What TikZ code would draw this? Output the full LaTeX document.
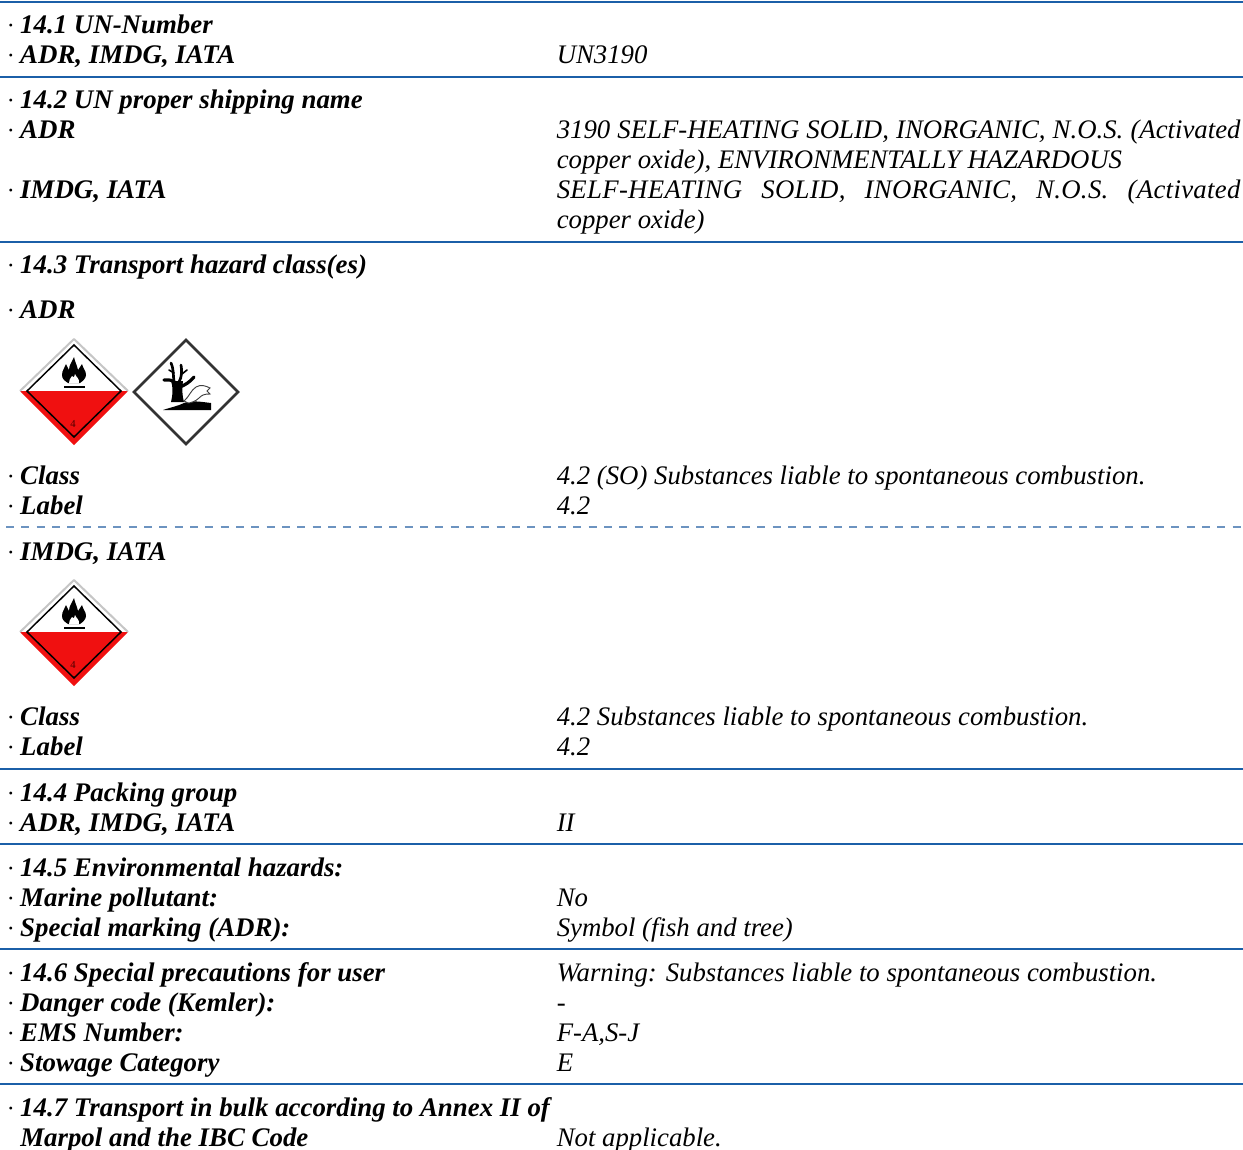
\documentclass[tikz,border=0pt]{standalone}
\usepackage{fontspec}
\setmainfont{Liberation Serif}
\definecolor{rulecol}{HTML}{1B5FA8}
\definecolor{redfill}{HTML}{F01010}
\definecolor{dashcol}{HTML}{6C93C0}
\newlength{\pxu}\setlength{\pxu}{0.75pt}
\newcommand{\dgflame}{%
  \fill[black] (-12,-3) .. controls (-12,-8) and (-9,-10) .. (-8,-14) .. controls (-7,-12) and (-6,-10) .. (-5,-8)
    .. controls (-5,-13) and (-2,-16) .. (0,-21) .. controls (1,-16) and (3,-13) .. (4,-8)
    .. controls (5,-10) and (7,-12) .. (8,-14) .. controls (9,-9) and (12,-8) .. (12,-3)
    .. controls (12,0) and (9,3) .. (6,5) -- (-6,5) .. controls (-9,3) and (-12,1) .. (-12,-3) -- cycle;
  \fill[white] (-5,5) .. controls (-6,2) and (-3,1) .. (-2,-2) .. controls (-1,0) and (0,0) .. (1,-4)
    .. controls (2,-1) and (6,1) .. (5,5) -- cycle;
  \fill[black] (-10,8) rectangle (11,9.6);
}
\newcommand{\dgfour}[2]{%
  \begin{scope}[shift={(#1,#2)}]
    \fill[redfill] (-54,0) -- (54,0) -- (0,54) -- cycle;
    \draw[gray!45,line width=1.5pt,line join=round] (-54,0) -- (0,-52) -- (54,0);
    \draw[black,line width=1.1pt,line join=miter] (0,-46) -- (47,0) -- (0,46) -- (-47,0) -- cycle;
    \begin{scope}[shift={(0,-13)}]\dgflame\end{scope}
    \node[font=\fontsize{8pt}{9pt}\selectfont,text=black!70!red,inner sep=0pt] at (-1,33) {4};
  \end{scope}%
}
\tikzset{
  x=\pxu,y=-\pxu,
  lab/.style={anchor=base west,inner sep=0pt,font=\fontsize{20.15pt}{24pt}\selectfont\bfseries\itshape},
  val/.style={anchor=base west,inner sep=0pt,font=\fontsize{20.07pt}{24pt}\selectfont\itshape},
  bluerule/.style={draw=rulecol,line width=1.5pt},
  dashrule/.style={draw=dashcol,line width=1pt,dash pattern=on 6pt off 5.5pt}
}
\newcommand{\LL}[2]{\node[lab] (l#1) at (6.5,#1) {\makebox[10.1pt][l]{\fontsize{18pt}{18pt}\selectfont\upshape\mdseries ·}#2};}
\newcommand{\VV}[2]{\node[val] (v#1) at (556.5,#1) {#2};}
\begin{document}
\begin{tikzpicture}
\useasboundingbox (0,0) rectangle (1243,1150);
\fill[white] (0,0) rectangle (1243,1150);
\foreach \yy/\nn in {2/a,77/b,242/c,769/d,844/e,949/f,1084/g}{
  \coordinate (rs\nn) at (0,\yy); \coordinate (re\nn) at (1243,\yy);
  \draw[bluerule] (rs\nn) -- (re\nn);
}
\coordinate (dsa) at (6,527); \coordinate (dsb) at (1243,527);
\draw[dashrule] (dsa) -- (dsb);
\LL{33}{14.1 UN-Number}
\LL{63}{ADR, IMDG, IATA}
\VV{63}{UN3190}
\LL{108}{14.2 UN proper shipping name}
\LL{138}{ADR}
\VV{138}{\makebox[512.8pt][s]{3190 SELF-HEATING SOLID, INORGANIC, N.O.S. (Activated}}
\VV{168}{copper oxide), ENVIRONMENTALLY HAZARDOUS}
\LL{198}{IMDG, IATA}
\VV{198}{\addfontfeature{LetterSpace=1.2}\makebox[512.8pt][s]{SELF-HEATING SOLID, INORGANIC, N.O.S. (Activated}}
\VV{228}{copper oxide)}
\LL{273}{14.3 Transport hazard class(es)}
\LL{318}{ADR}
\dgfour{74}{391}
\begin{scope}[shift={(186,392)}]
  \draw[black!80,line width=2pt,line join=miter] (0,-52) -- (52,0) -- (0,52) -- (-52,0) -- cycle;
  \fill[black] (-23,18) .. controls (-14,15) and (-8,14) .. (-2,11) .. controls (6,8) and (16,10) .. (25,11) -- (25,18) -- cycle;
  \fill[black] (-15,10) .. controls (-13,2) and (-13,-6) .. (-15,-11) -- (-3,-11) .. controls (-4,-3) and (-4,3) .. (-2,10) -- cycle;
  \draw[black,line width=2.4pt,line cap=round] (-9,-8) .. controls (-14,-13) and (-18,-12) .. (-22,-12);
  \draw[black,line width=2pt,line cap=round] (-12,-10) .. controls (-13,-17) and (-12,-22) .. (-15,-29);
  \draw[black,line width=2pt,line cap=round] (-7,-10) .. controls (-4,-15) and (-4,-22) .. (-5,-27);
  \draw[black,line width=2.4pt,line cap=round] (-6,-5) .. controls (-1,-7) and (4,-10) .. (8,-15);
  \draw[black,line width=1.2pt,line cap=round] (-12,-19) -- (-17,-22);
  \draw[black,line width=1.2pt,line cap=round] (-4,-18) -- (1,-22);
  \draw[black!75,fill=white,line width=0.7pt] (-2,9) .. controls (3,5) and (5,-2) .. (10,-5) .. controls (15,-8) and (20,-6) .. (24,-4) -- (21,-1) -- (24,2)
    .. controls (18,2) and (16,3) .. (13,6) .. controls (10,9) and (5,11) .. (2,11) -- cycle;
\end{scope}
\LL{484}{Class}
\VV{484}{4.2 (SO) Substances liable to spontaneous combustion.}
\LL{514}{Label}
\VV{514}{4.2}
\LL{560}{IMDG, IATA}
\dgfour{74}{632}
\LL{725}{Class}
\VV{725}{4.2 Substances liable to spontaneous combustion.}
\LL{755}{Label}
\VV{755}{4.2}
\LL{801}{14.4 Packing group}
\LL{831}{ADR, IMDG, IATA}
\VV{831}{II}
\LL{876}{14.5 Environmental hazards:}
\LL{906}{Marine pollutant:}
\VV{906}{No}
\LL{936}{Special marking (ADR):}
\VV{936}{Symbol (fish and tree)}
\LL{981}{14.6 Special precautions for user}
\VV{981}{Warning: Substances liable to spontaneous combustion.}
\LL{1011}{Danger code (Kemler):}
\VV{1011}{-}
\LL{1041}{EMS Number:}
\VV{1041}{F-A,S-J}
\LL{1071}{Stowage Category}
\VV{1071}{E}
\LL{1116}{14.7 Transport in bulk according to Annex II of}
\node[lab] (lmar) at (20,1146) {Marpol and the IBC Code};
\VV{1146}{Not applicable.}
\end{tikzpicture}
\end{document}
